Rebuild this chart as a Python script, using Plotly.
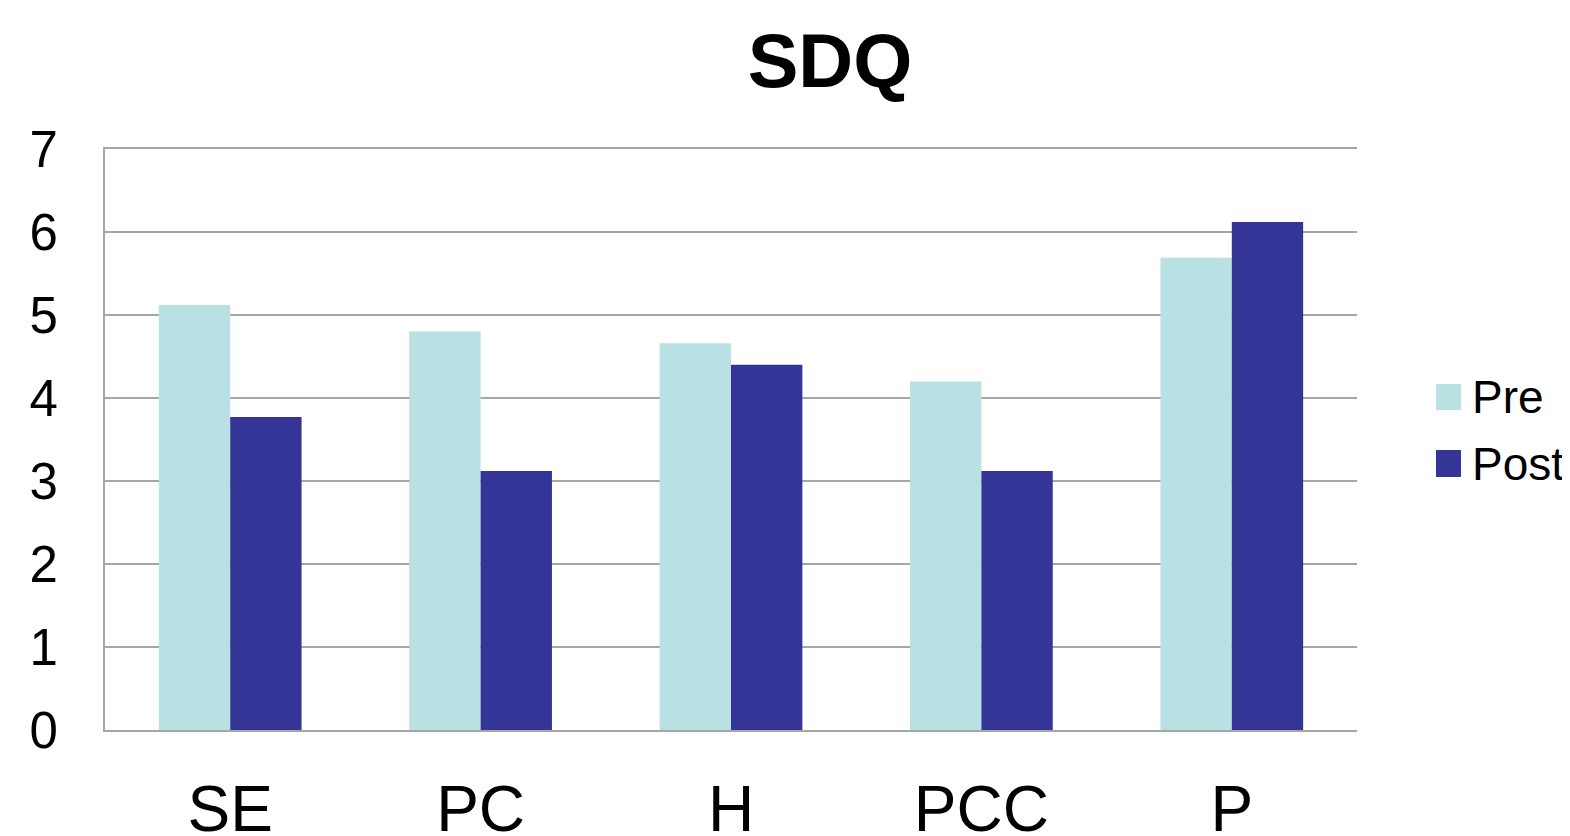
import plotly.graph_objects as go

categories = ["SE", "PC", "H", "PCC", "P"]
pre_values = [5.12, 4.80, 4.66, 4.20, 5.69]
post_values = [3.77, 3.12, 4.40, 3.12, 6.12]
y_ticks = [0, 1, 2, 3, 4, 5, 6, 7]

PRE_COLOR = "#B9E0E3"
POST_COLOR = "#353597"
FONT = "Liberation Sans, Arial, sans-serif"

# page body has an 8px default margin: compensate
OFF = 8
SW, SH = 1570, 836
W, H = SW - OFF, SH - OFF
# plot area in screen pixels
PX0, PX1, PY0, PY1 = 105, 1357, 149, 730
L, T = PX0 - OFF, PY0 - OFF
R, B = W - (PX1 - OFF), H - (PY1 - OFF)
pw, ph = W - L - R, H - T - B

def px_x(x):
    return (x - PX0) / pw

def px_y(y):
    return (PY1 - y) / ph

fig = go.Figure()
fig.add_trace(go.Bar(x=categories, y=pre_values, name="Pre",
                     marker=dict(color=PRE_COLOR, line=dict(width=0)), showlegend=False))
fig.add_trace(go.Bar(x=categories, y=post_values, name="Post",
                     marker=dict(color=POST_COLOR, line=dict(width=0)), showlegend=False))

# Custom legend (large squares)
legend_items = [("Pre", PRE_COLOR, 384, 410), ("Post", POST_COLOR, 450, 477)]
for name, col, y0, y1 in legend_items:
    fig.add_shape(type="rect", xref="paper", yref="paper",
                  x0=px_x(1436), x1=px_x(1461), y0=px_y(y1), y1=px_y(y0),
                  fillcolor=col, line=dict(width=0))
    fig.add_annotation(xref="paper", yref="paper", x=px_x(1470), y=px_y((y0 + y1) / 2),
                       text=name, showarrow=False, xanchor="left", yanchor="middle",
                       font=dict(size=46, color="black", family=FONT))

fig.update_layout(
    width=W, height=H,
    margin=dict(l=L, r=R, t=T, b=B, pad=0, autoexpand=False),
    paper_bgcolor="white", plot_bgcolor="white",
    barmode="group", bargap=0.43, bargroupgap=0,
    title=dict(text="<b>SDQ</b>", x=(830 - OFF) / W, xref="container", xanchor="center",
               y=1 - (60 - OFF) / H, yref="container", yanchor="middle",
               font=dict(size=76, color="black", family=FONT), automargin=False),
    font=dict(family=FONT, color="black"),
    showlegend=False,
    xaxis=dict(showgrid=False, showline=True, mirror=True, linecolor="#A6A6A6", linewidth=2,
               ticks="", tickfont=dict(size=64, color="black"), ticklabelstandoff=22,
               automargin=False),
    yaxis=dict(range=[0, 7], tickvals=y_ticks, showgrid=True, gridcolor="#A6A6A6",
               gridwidth=2, showline=True, linecolor="#A6A6A6", linewidth=2,
               ticks="", tickfont=dict(size=51, color="black"), ticklabelstandoff=35,
               zeroline=False, automargin=False),
)

fig.write_html("out.html")
